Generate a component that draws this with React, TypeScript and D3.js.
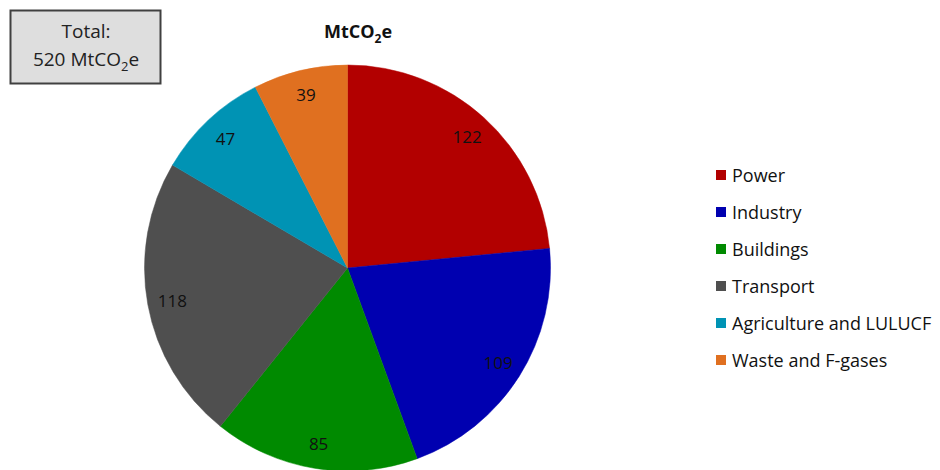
import React from "react";
import * as d3 from "d3";

const categories = ["Power", "Industry", "Buildings", "Transport", "Agriculture and LULUCF", "Waste and F-gases"];
const values = [122, 109, 85, 118, 47, 39];
const colors = ["#b20000", "#0000b0", "#008a00", "#4f4f4f", "#0093b4", "#e07020"];
const totalLabel = "520";

const W = 940;
const H = 470;
const FONT = "'Open Sans', 'Noto Sans', sans-serif";

export default function App() {
  const cx = 347.5;
  const cy = 268;
  const r = 203;
  const pie = d3.pie<number>().sort(null).value((d) => d);
  const arcs = pie(values);
  const arc = d3.arc<d3.PieArcDatum<number>>().innerRadius(0).outerRadius(r);
  const labelPos = (a: d3.PieArcDatum<number>) => {
    const m = (a.startAngle + a.endAngle) / 2;
    const lr = 178;
    return [Math.sin(m) * lr, -Math.cos(m) * lr];
  };

  const legendY = d3.scalePoint<string>().domain(categories).range([175, 360]);

  return (
    <svg width={W} height={H} style={{ position: "absolute", left: 0, top: 0, background: "#fff" }}>
      <rect x={0} y={0} width={W} height={H} fill="#fff" />
      {/* Total box */}
      <rect x={10.5} y={10.5} width={150} height={73} fill="#dedede" stroke="#404040" strokeWidth={2} />
      <text x={86} y={38} textAnchor="middle" fontFamily={FONT} fontSize={19} fill="#222">Total:</text>
      <text x={86} y={66} textAnchor="middle" fontFamily={FONT} fontSize={19} fill="#222">
        {totalLabel} MtCO<tspan fontSize={13} dy={5}>2</tspan><tspan dy={-5}>e</tspan>
      </text>
      {/* Title */}
      <text x={358} y={38} textAnchor="middle" fontFamily={FONT} fontSize={18} fontWeight="bold" fill="#111">
        MtCO<tspan fontSize={12} dy={5}>2</tspan><tspan dy={-5}>e</tspan>
      </text>
      {/* Pie */}
      <g transform={`translate(${cx},${cy})`}>
        {arcs.map((a, i) => (
          <path key={categories[i]} d={arc(a) || ""} fill={colors[i]} stroke={colors[i]} strokeWidth={0.5} />
        ))}
        {arcs.map((a, i) => {
          const [x, y] = labelPos(a);
          return (
            <text key={"l" + i} x={x} y={y} textAnchor="middle" dominantBaseline="central" fontFamily={FONT} fontSize={17} fill="#111">
              {values[i]}
            </text>
          );
        })}
      </g>
      {/* Legend */}
      {categories.map((c, i) => (
        <g key={"lg" + i} transform={`translate(716,${legendY(c)})`}>
          <rect x={0} y={-5} width={10} height={10} fill={colors[i]} />
          <text x={16} y={0} dominantBaseline="central" fontFamily={FONT} fontSize={18} fill="#111">{c}</text>
        </g>
      ))}
    </svg>
  );
}
